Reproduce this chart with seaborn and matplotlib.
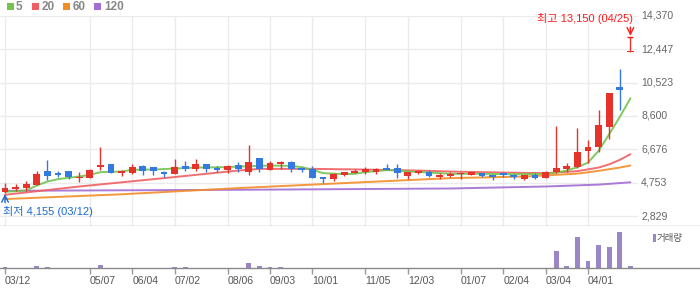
import numpy as np
import matplotlib
matplotlib.use("Agg")
import matplotlib.pyplot as plt
import seaborn as sns
from matplotlib.patches import Rectangle
from matplotlib.transforms import blended_transform_factory

# ---------------- data (weekly candles, index 0 = 03/12) ----------------
opens = [4230, 4400, 4457, 4630, 5435, 5338, 5435, 5050, 5050, 5683,
         5839, 5338, 5338, 5723, 5666, 5397, 5263, 5723, 5533, 5839,
         5626, 5493, 5781, 5395, 6184, 5510, 5855, 5953, 5626, 5568,
         5073, 4975, 5205, 5338, 5378, 5395, 5608, 5608, 5165, 5338,
         5378, 5108, 5165, 5263, 5223, 5338, 5223, 5303, 5223, 4975,
         5223, 5050, 5378, 5568, 5666, 6586, 6834, 7984, 10290, 12300]
highs = [4760, 4690, 4860, 5435, 6068, 5435, 5435, 5378, 5550, 6834,
         5839, 5493, 5839, 5781, 5666, 5435, 6126, 6011, 6126, 5839,
         5723, 5781, 5954, 6931, 6184, 6011, 6028, 6011, 5683, 5723,
         5108, 5338, 5395, 5568, 5666, 5608, 5839, 5839, 5378, 5493,
         5493, 5303, 5395, 5395, 5395, 5338, 5223, 5378, 5263, 5223,
         5303, 5435, 8025, 5878, 7910, 7219, 8945, 9944, 11295, 13150]
lows = [4155, 4280, 4300, 4590, 4917, 5108, 4958, 4820, 5015, 5493,
        5338, 5165, 5263, 5205, 5205, 5108, 5245, 5454, 5454, 5395,
        5360, 5338, 5397, 5205, 5395, 5493, 5568, 5378, 5378, 5050,
        4762, 4877, 5165, 5338, 5245, 5245, 5493, 5050, 4975, 5280,
        5108, 4975, 5108, 4993, 5188, 5090, 4935, 5108, 4993, 4917,
        4993, 5033, 5338, 5378, 5580, 5913, 6511, 7256, 8946, 12300]
closes = [4450, 4530, 4687, 5263, 5148, 5223, 5070, 5108, 5493, 5781,
          5338, 5435, 5683, 5454, 5454, 5280, 5646, 5533, 5839, 5550,
          5493, 5740, 5533, 5953, 5568, 5896, 5970, 5568, 5493, 5050,
          4993, 5280, 5360, 5454, 5533, 5550, 5493, 5338, 5378, 5418,
          5130, 5205, 5263, 5300, 5360, 5165, 5108, 5188, 5108, 5205,
          5033, 5395, 5608, 5740, 6529, 6816, 8082, 9944, 10100, 12300]
volumes = [10, 0, 0, 20, 10, 0, 0, 0, 0, 30,
           0, 0, 0, 0, 0, 0, 10, 10, 0, 0,
           0, 0, 0, 50, 23, 10, 10, 0, 0, 0,
           0, 0, 0, 0, 0, 0, 0, 0, 0, 0,
           0, 0, 0, 0, 0, 0, 0, 0, 0, 0,
           0, 0, 173, 23, 313, 73, 233, 213, 363, 23]

ma5_idx = [0, 2, 3, 4, 5, 6, 7, 8, 9, 10, 11, 12, 13, 14, 16, 18, 21, 22, 25, 27,
           28, 29, 30, 32, 33, 34, 36, 37, 38, 40, 42, 43, 45, 47, 49, 51, 52, 53,
           54, 55, 56, 57, 58, 59]
ma5 = [4227, 4302, 4589, 4820, 4958, 5033, 5107, 5205, 5360, 5378, 5395, 5493,
       5510, 5510, 5568, 5625, 5648, 5683, 5740, 5723, 5648, 5493, 5303, 5245,
       5263, 5360, 5476, 5453, 5395, 5338, 5263, 5263, 5263, 5245, 5245, 5263,
       5338, 5453, 5648, 5913, 6590, 7550, 8550, 9618]
ma20_idx = [0, 7, 15, 22, 24, 29, 34, 39, 42, 47, 51, 54, 56, 57, 58, 59]
ma20 = [4054, 4532, 5015, 5453, 5550, 5550, 5510, 5453, 5395, 5338, 5303,
        5418, 5625, 5810, 6068, 6396]
ma60_idx = [0, 11, 22, 32, 42, 49, 52, 54, 56, 58, 59]
ma60 = [3807, 4083, 4440, 4728, 5015, 5107, 5205, 5274, 5435, 5625, 5740]
ma120_idx = [0, 22, 42, 51, 56, 59]
ma120 = [4284, 4342, 4417, 4532, 4641, 4774]

price_ticks = [14370, 12447, 10523, 8600, 6676, 4753, 2829]
date_tick_idx = [0, 8, 12, 16, 21, 25, 29, 34, 38, 43, 47, 51, 55]
date_tick_labels = ["03/12", "05/07", "06/04", "07/02", "08/06", "09/03", "10/01",
                    "11/05", "12/03", "01/07", "02/04", "03/04", "04/01"]
legend_labels = ["5", "20", "60", "120"]

# ---------------- style ----------------
sns.set_theme(style="white")
plt.rcParams["font.family"] = ["Liberation Sans", "Noto Sans CJK KR"]

W, H = 700, 289
fig = plt.figure(figsize=(W / 100, H / 100), dpi=100)
fig.patch.set_facecolor("white")

ax = fig.add_axes([0, (H - 226) / H, 1, 210 / H])
axv = fig.add_axes([0, (H - 268) / H, 1, 42 / H])

STEP = 10.6
xlim = (-5 / STEP, (W - 5) / STEP)

RED = "#e5332b"
BLUE = "#3479e0"
C_MA5, C_MA20, C_MA60, C_MA120 = "#72c44e", "#ef5f62", "#f38d28", "#a26dd4"

# gridlines
for v in price_ticks:
    ax.axhline(v, xmin=0, xmax=637 / W, color="#ebebeb", lw=1, zorder=0)
for t in date_tick_idx:
    ax.axvline(t, color="#ebebeb", lw=1, zorder=0)

# moving averages
for xi, yi, c in [(ma120_idx, ma120, C_MA120), (ma60_idx, ma60, C_MA60),
                  (ma20_idx, ma20, C_MA20), (ma5_idx, ma5, C_MA5)]:
    sns.lineplot(x=xi, y=yi, ax=ax, color=c, lw=1.4, alpha=0.9, zorder=2)

# candles
o = np.array(opens); h = np.array(highs); l = np.array(lows); c = np.array(closes)
idx = np.arange(len(o))
cols = [RED if cc >= oo else BLUE for oo, cc in zip(o, c)]
ax.vlines(idx, l, h, colors=cols, lw=1.0, zorder=3)
bottoms = np.minimum(o, c)
heights = np.maximum(np.abs(c - o), 55)
ax.bar(idx, heights, bottom=bottoms, width=0.66, color=cols, linewidth=0, zorder=4)

ax.set_xlim(*xlim)
ax.set_ylim(2253, 14370)
ax.set_xticks([]); ax.set_yticks([])
ax.set_xlabel(""); ax.set_ylabel("")
for s in ["top", "left", "right"]:
    ax.spines[s].set_visible(False)
ax.spines["bottom"].set_color("#9a9a9a")
ax.spines["bottom"].set_linewidth(1)

trans = blended_transform_factory(ax.transAxes, ax.transData)
for v in price_ticks:
    ax.text(641 / W, v, f"{v:,}", transform=trans, ha="left", va="center",
            fontsize=7.6, color="#666666")

# high / low annotations
ax.text(59.25, 14237, "최고 13,150 (04/25)", ha="right", va="center",
        fontsize=8, color="#ff1a1a", clip_on=False)
ax.annotate("", xy=(59, 13230), xytext=(59, 13735),
            arrowprops=dict(arrowstyle="->", color="#ff1a1a", lw=1,
                            shrinkA=0, shrinkB=0))
ax.hlines(13150, 58.72, 59.28, color="#ff1a1a", lw=1, zorder=5)

ax.text(-0.22, 3118, "최저 4,155 (03/12)", ha="left", va="center",
        fontsize=8, color="#1a6ad6", clip_on=False)
ax.annotate("", xy=(0, 4100), xytext=(0, 3600),
            arrowprops=dict(arrowstyle="->", color="#1a6ad6", lw=1,
                            shrinkA=0, shrinkB=0))

# volume
sns.barplot(x=idx, y=volumes, ax=axv, native_scale=True, color="#9a85c6",
            saturation=1, width=0.47, linewidth=0)
axv.set_xlim(*xlim)
axv.set_ylim(0, 420)
axv.set_yticks([])
axv.set_xlabel(""); axv.set_ylabel("")
for s in ["top", "left", "right"]:
    axv.spines[s].set_visible(False)
axv.spines["bottom"].set_color("#8a8a8a")
axv.spines["bottom"].set_linewidth(1)
axv.set_xticks(date_tick_idx)
axv.set_xticklabels(date_tick_labels, ha="left")
axv.tick_params(axis="x", direction="out", length=4, width=1, color="#9a9a9a",
                labelsize=7.6, labelcolor="#555555", pad=2, bottom=True)

# top legend
sq_x = [7, 32, 63, 94]
tx_x = [16, 42, 73, 104]
for lab, col, sx, tx in zip(legend_labels, [C_MA5, C_MA20, C_MA60, C_MA120], sq_x, tx_x):
    fig.patches.append(Rectangle((sx / W, 1 - 10 / H), 7 / W, 7 / H,
                                 transform=fig.transFigure, color=col, lw=0))
    fig.text(tx / W, 1 - 6.5 / H, lab, ha="left", va="center", fontsize=8.5,
             fontweight="bold", color="#888888")

# volume legend
fig.patches.append(Rectangle((652.7 / W, 1 - 242 / H), 3 / W, 8 / H,
                             transform=fig.transFigure, color="#9a85c6", lw=0))
fig.text(657 / W, 1 - 238 / H, "거래량", ha="left", va="center", fontsize=6.8,
         color="#555555")

fig.savefig("out.png", dpi=100)
